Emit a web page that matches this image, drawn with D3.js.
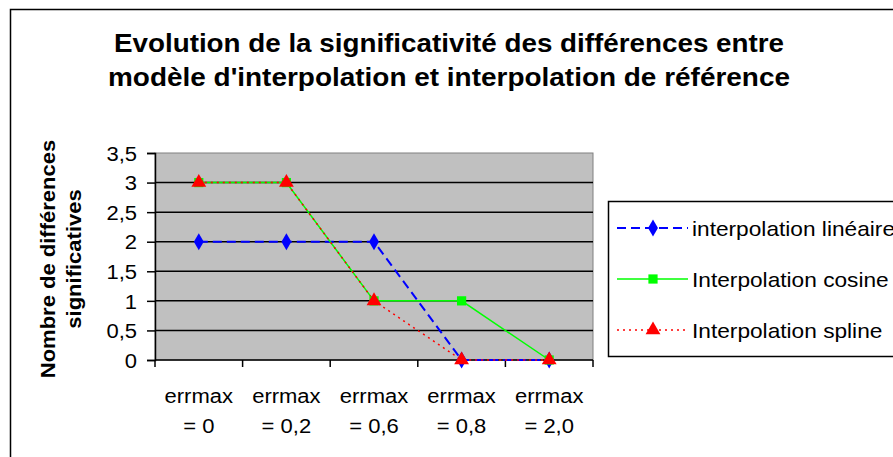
<!DOCTYPE html>
<html>
<head>
<meta charset="utf-8">
<script src="https://cdn.jsdelivr.net/npm/d3@7"></script>
<style>
  html, body { margin: 0; padding: 0; background: #fff; }
  svg { display: block; }
  text { font-family: "Liberation Sans", Arial, sans-serif; fill: #000; }
</style>
</head>
<body>
<svg id="chart" width="893" height="457"></svg>
<script>
// Chart data
const categories = ["errmax\n= 0", "errmax\n= 0,2", "errmax\n= 0,6", "errmax\n= 0,8", "errmax\n= 2,0"];
const lineaire = [2, 2, 2, 0, 0];
const cosine   = [3, 3, 1, 1, 0];
const spline   = [3, 3, 1, 0, 0];
const seriesNames = ["interpolation linéaire", "Interpolation cosine", "Interpolation spline"];
const yTicks = [0, 0.5, 1, 1.5, 2, 2.5, 3, 3.5];
const titleLines = ["Evolution de la significativité des différences entre",
                    "modèle d'interpolation et interpolation de référence"];
const yTitleLines = ["Nombre de différences", "significatives"];

const plot = { left: 155, top: 153, right: 593, bottom: 360 };

const svg = d3.select("#chart");

// stretch a text element along its baseline
function widen(sel, k) {
  sel.each(function () {
    const len = this.getComputedTextLength();
    d3.select(this).attr("textLength", len * k).attr("lengthAdjust", "spacingAndGlyphs");
  });
}

// Outer chart frame
svg.append("rect")
  .attr("x", 10.5).attr("y", 9.5).attr("width", 1000).attr("height", 1000)
  .attr("fill", "#fff").attr("stroke", "#000").attr("stroke-width", 1.5);

// Title
svg.append("g").selectAll("text").data(titleLines).join("text")
  .attr("x", 449).attr("y", (d, i) => 52 + i * 34)
  .attr("text-anchor", "middle")
  .attr("font-size", 25).attr("font-weight", "bold")
  .attr("textLength", (d, i) => i === 0 ? 670 : 682)
  .attr("lengthAdjust", "spacingAndGlyphs")
  .text(d => d);

// Scales
const x = d3.scaleBand().domain(d3.range(categories.length)).range([plot.left, plot.right]);
const y = d3.scaleLinear().domain([0, 3.5]).range([plot.bottom, plot.top]);
const cx = i => x(i) + x.bandwidth() / 2;

// Plot background
svg.append("rect")
  .attr("x", plot.left).attr("y", plot.top)
  .attr("width", plot.right - plot.left).attr("height", plot.bottom - plot.top)
  .attr("fill", "#c0c0c0").attr("stroke", "#808080").attr("stroke-width", 1);

// Horizontal gridlines
svg.append("g").selectAll("line").data(yTicks.filter(v => v > 0 && v < 3.5)).join("line")
  .attr("x1", plot.left).attr("x2", plot.right)
  .attr("y1", d => y(d)).attr("y2", d => y(d))
  .attr("stroke", "#000").attr("stroke-width", 1.5);

// Y axis
const yAxis = svg.append("g").attr("transform", `translate(${plot.left},0)`)
  .call(d3.axisLeft(y).tickValues(yTicks).tickSize(8).tickPadding(10)
        .tickFormat(d => String(d).replace(".", ",")));
yAxis.select(".domain").attr("stroke", "#000").attr("stroke-width", 1.5);
yAxis.selectAll(".tick line").attr("stroke", "#000").attr("stroke-width", 1.5);
yAxis.selectAll(".tick text")
  .attr("font-size", 20).attr("font-family", "Liberation Sans, Arial, sans-serif")
  .attr("fill", "#222").attr("dy", "0.36em")
  .call(widen, 1.1);

// X axis line and category ticks
svg.append("line")
  .attr("x1", plot.left).attr("x2", plot.right)
  .attr("y1", plot.bottom).attr("y2", plot.bottom)
  .attr("stroke", "#000").attr("stroke-width", 1.5);
svg.append("g").selectAll("line").data(d3.range(categories.length + 1)).join("line")
  .attr("x1", d => plot.left + d * x.step()).attr("x2", d => plot.left + d * x.step())
  .attr("y1", plot.bottom).attr("y2", plot.bottom + 7)
  .attr("stroke", "#000").attr("stroke-width", 1.5);

// Category labels (two lines each)
const catLabels = svg.append("g");
categories.forEach((c, i) => {
  c.split("\n").forEach((part, j) => {
    catLabels.append("text")
      .attr("x", cx(i)).attr("y", 403 + j * 30)
      .attr("text-anchor", "middle")
      .attr("font-size", 20).attr("fill", "#222")
      .text(part)
      .call(widen, 1.1);
  });
});

// Y axis title
svg.append("g").attr("transform", "translate(0,259)")
  .selectAll("text").data(yTitleLines).join("text")
  .attr("transform", (d, i) => `translate(${55 + i * 26},0) rotate(-90)`)
  .attr("text-anchor", "middle")
  .attr("font-size", 20).attr("font-weight", "bold")
  .text(d => d)
  .call(widen, 1.1);

// Series
const series = [
  { name: seriesNames[0], values: lineaire, color: "#0000ff", dash: "9,5", width: 2, symbol: d3.symbolDiamond, size: 85 },
  { name: seriesNames[1], values: cosine,   color: "#00ff00", dash: null,  width: 1.5, symbol: d3.symbolSquare, size: 85 },
  { name: seriesNames[2], values: spline,   color: "#ff0000", dash: "2,4", width: 1.5, symbol: d3.symbolTriangle, size: 95 }
];

const line = d3.line().x((d, i) => cx(i)).y(d => y(d));

series.forEach(s => {
  svg.append("path")
    .datum(s.values)
    .attr("d", line)
    .attr("fill", "none")
    .attr("stroke", s.color)
    .attr("stroke-width", s.width)
    .attr("stroke-dasharray", s.dash);
});
series.forEach(s => {
  svg.append("g").selectAll("path").data(s.values).join("path")
    .attr("transform", (d, i) => `translate(${cx(i)},${y(d)})`)
    .attr("d", d3.symbol().type(s.symbol).size(s.size))
    .attr("fill", s.color);
});

// Legend
const legend = svg.append("g");
legend.append("rect")
  .attr("x", 608.5).attr("y", 201.5).attr("width", 400).attr("height", 155)
  .attr("fill", "#fff").attr("stroke", "#000").attr("stroke-width", 1.5);
series.forEach((s, i) => {
  const ly = 228 + i * 51;
  const g = legend.append("g");
  g.append("line")
    .attr("x1", 617).attr("x2", 688).attr("y1", ly).attr("y2", ly)
    .attr("stroke", s.color).attr("stroke-width", s.width)
    .attr("stroke-dasharray", s.dash);
  g.append("path")
    .attr("transform", `translate(653,${ly})`)
    .attr("d", d3.symbol().type(s.symbol).size(s.size))
    .attr("fill", s.color);
  g.append("text")
    .attr("x", 692).attr("y", ly + 8)
    .attr("font-size", 21).attr("fill", "#222")
    .text(s.name)
    .call(widen, 1.08);
});
</script>
</body>
</html>
